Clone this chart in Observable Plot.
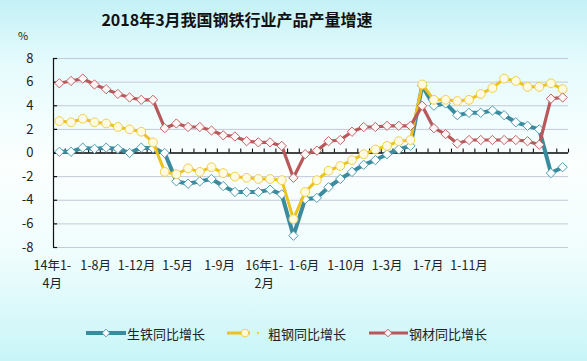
<!DOCTYPE html>
<html>
<head>
<meta charset="utf-8">
<script src="https://cdn.jsdelivr.net/npm/d3@7"></script>
<script src="https://cdn.jsdelivr.net/npm/@observablehq/plot@0.6"></script>
<style>
  html, body { margin: 0; padding: 0; }
  body {
    width: 587px; height: 361px; overflow: hidden; position: relative;
    background: linear-gradient(to bottom, #c4f1f7 0%, #e6fbfd 18%, #fbfffe 45%, #f0fdfd 70%, #c8f5f8 100%);
    font-family: "Noto Sans CJK SC", sans-serif;
  }
  #title { position: absolute; top: 7px; left: 237px; transform: translateX(-50%); font-size: 16px; font-weight: bold; color: #111; white-space: nowrap; }
  #unit { position: absolute; top: 27px; left: 18px; font-size: 11px; color: #222; }
  #chart { position: absolute; top: 0; left: 0; }
  #legend { position: absolute; top: 323px; left: 0; width: 587px; height: 20px; font-size: 13px; color: #222; }
  .item { position: absolute; top: 0; display: flex; align-items: center; white-space: nowrap; }
  .item svg { display: block; }
</style>
</head>
<body>
<div id="title">2018年3月我国钢铁行业产品产量增速</div>
<div id="unit">%</div>
<div id="chart"></div>
<div id="legend"></div>
<script>
// Periods (cumulative months)
const periods = [
  "2014年1-4月","2014年1-5月","2014年1-6月","2014年1-7月","2014年1-8月","2014年1-9月","2014年1-10月","2014年1-11月","2014年1-12月",
  "2015年1-2月","2015年1-3月","2015年1-4月","2015年1-5月","2015年1-6月","2015年1-7月","2015年1-8月","2015年1-9月","2015年1-10月","2015年1-11月","2015年1-12月",
  "2016年1-2月","2016年1-3月","2016年1-4月","2016年1-5月","2016年1-6月","2016年1-7月","2016年1-8月","2016年1-9月","2016年1-10月","2016年1-11月","2016年1-12月",
  "2017年1-2月","2017年1-3月","2017年1-4月","2017年1-5月","2017年1-6月","2017年1-7月","2017年1-8月","2017年1-9月","2017年1-10月","2017年1-11月","2017年1-12月",
  "2018年1-2月","2018年1-3月"
];
// 生铁同比增长
const pigIron = [0.1,0.1,0.45,0.35,0.45,0.35,0.0,0.45,0.4,
  0.0,-2.4,-2.6,-2.4,-2.2,-2.8,-3.3,-3.3,-3.3,-3.1,-3.5,
  -7.0,-3.9,-3.8,-2.9,-2.2,-1.6,-1.0,-0.6,-0.1,0.3,0.6,
  5.7,4.0,4.2,3.2,3.4,3.4,3.6,3.2,2.6,2.3,2.0,
  -1.7,-1.2];
// 粗钢同比增长
const crudeSteel = [2.7,2.6,2.9,2.6,2.5,2.2,2.0,1.8,0.9,
  -1.6,-1.8,-1.3,-1.6,-1.2,-1.7,-2.0,-2.1,-2.2,-2.2,-2.3,
  -5.6,-3.3,-2.3,-1.5,-1.1,-0.6,-0.1,0.3,0.6,1.0,1.1,
  5.8,4.5,4.5,4.4,4.5,5.0,5.5,6.3,6.1,5.6,5.6,
  5.9,5.4];
// 钢材同比增长
const steelProducts = [5.9,6.1,6.3,5.8,5.4,5.0,4.7,4.5,4.5,
  2.1,2.5,2.2,2.2,1.9,1.5,1.4,1.0,0.9,0.9,0.6,
  -2.1,-0.1,0.2,1.0,1.1,1.8,2.2,2.2,2.3,2.3,2.3,
  4.0,2.1,1.6,0.8,1.1,1.1,1.1,1.1,1.1,1.0,0.7,
  4.6,4.7];
const seriesNames = ["生铁同比增长","粗钢同比增长","钢材同比增长"];
// x tick labels and their positions on the period index axis
const tickLabels = ["14年1-\n4月","1-8月","1-12月","1-5月","1-9月","16年1-\n2月","1-6月","1-10月","1-3月","1-7月","1-11月"];
const tickPos = [-0.6, 3.1, 6.6, 10.1, 13.7, 17.5, 20.9, 24.5, 28.0, 31.5, 35.0];
const yTicks = [-8,-6,-4,-2,0,2,4,6,8];

const colors = {line: ["#3a8b9d","#ecc21c","#b8585b"], mark: ["#4d9db2","#f0cf4a","#c46266"], fill: ["#ffffff","#fffbe2","#fff6f6"]};
const widths = [4, 3, 3.2];

const rows = (vals) => vals.map((v, i) => ({i, period: periods[i], v}));
const dPig = rows(pigIron), dCrude = rows(crudeSteel), dSteel = rows(steelProducts);
const bounds = d3.range(-0.5, periods.length, 1);
const labelRows = tickLabels.map((t, k) => ({t, x: tickPos[k]}));

const font = "'Noto Sans CJK SC', sans-serif";
const chart = Plot.plot({
  width: 587, height: 361,
  marginLeft: 53, marginRight: 19, marginTop: 58, marginBottom: 114,
  style: {background: "transparent", fontFamily: font, fontSize: "12.5px", color: "#222", overflow: "visible"},
  x: {domain: [-0.5, periods.length - 0.5], axis: null},
  y: {domain: [-8, 8], axis: null},
  marks: [
    Plot.ruleY(yTicks, {stroke: "#c3c9d8", strokeWidth: 1}),
    Plot.ruleX([-0.5], {y1: -8, y2: 8, stroke: "#111", strokeWidth: 1.2}),
    Plot.ruleY(yTicks, {x1: -0.5, x2: -0.15, stroke: "#111", strokeWidth: 1.2}),
    Plot.ruleY([0], {x1: -0.5, x2: periods.length - 0.5, stroke: "#111", strokeWidth: 1.3}),
    Plot.ruleX(bounds, {y1: 0, y2: 0.33, stroke: "#111", strokeWidth: 1.1}),
    Plot.axisY({ticks: yTicks, tickSize: 0, tickPadding: 20, label: null, tickFormat: d => String(d), fontSize: 13}),
    Plot.text(labelRows, {x: "x", y: -8, text: "t", dy: 10, lineAnchor: "top", lineHeight: 1.42, fontSize: 12.5, fill: "#222"}),
    // 生铁
    Plot.line(dPig, {x: "i", y: "v", stroke: colors.line[0], strokeWidth: widths[0]}),
    Plot.dot(dPig, {x: "i", y: "v", symbol: "diamond2", r: 4.2, stroke: colors.mark[0], fill: colors.fill[0], strokeWidth: 1}),
    // 粗钢
    Plot.line(dCrude, {x: "i", y: "v", stroke: colors.line[1], strokeWidth: widths[1]}),
    Plot.dot(dCrude, {x: "i", y: "v", symbol: "circle", r: 4.4, stroke: colors.mark[1], fill: colors.fill[1], strokeWidth: 1}),
    // 钢材
    Plot.line(dSteel, {x: "i", y: "v", stroke: colors.line[2], strokeWidth: widths[2]}),
    Plot.dot(dSteel, {x: "i", y: "v", symbol: "diamond2", r: 4.2, stroke: colors.mark[2], fill: colors.fill[2], strokeWidth: 1})
  ]
});
document.getElementById("chart").appendChild(chart);

// Legend
const legend = document.getElementById("legend");
const items = [
  {left: 86, w: 40, mx: 20, sym: "diamond"},
  {left: 227, w: 40, mx: 18, sym: "circle"},
  {left: 369, w: 39, mx: 19, sym: "diamond"}
];
items.forEach((it, k) => {
  const div = document.createElement("div");
  div.className = "item";
  div.style.left = it.left + "px";
  let marker;
  if (it.sym === "diamond") {
    const h = 3.8;
    marker = `<path d="M${it.mx},${10-h}L${it.mx+h},10L${it.mx},${10+h}L${it.mx-h},10Z" fill="${colors.fill[k]}" stroke="${colors.mark[k]}" stroke-width="1"/>`;
  } else {
    marker = `<circle cx="${it.mx}" cy="10" r="3.8" fill="${colors.fill[k]}" stroke="${colors.mark[k]}" stroke-width="1"/>`;
  }
  let lineEnd = k === 1 ? 23 : it.w;
  let extra = k === 1 ? `<circle cx="31" cy="10" r="1.2" fill="${colors.mark[1]}"/>` : "";
  div.innerHTML = `<svg width="${it.w}" height="20"><line x1="0" y1="10" x2="${lineEnd}" y2="10" stroke="${colors.line[k]}" stroke-width="${widths[k]}"/>${extra}${marker}</svg><span style="margin-left:${k===1?1:1}px">${seriesNames[k]}</span>`;
  legend.appendChild(div);
});
</script>
</body>
</html>
